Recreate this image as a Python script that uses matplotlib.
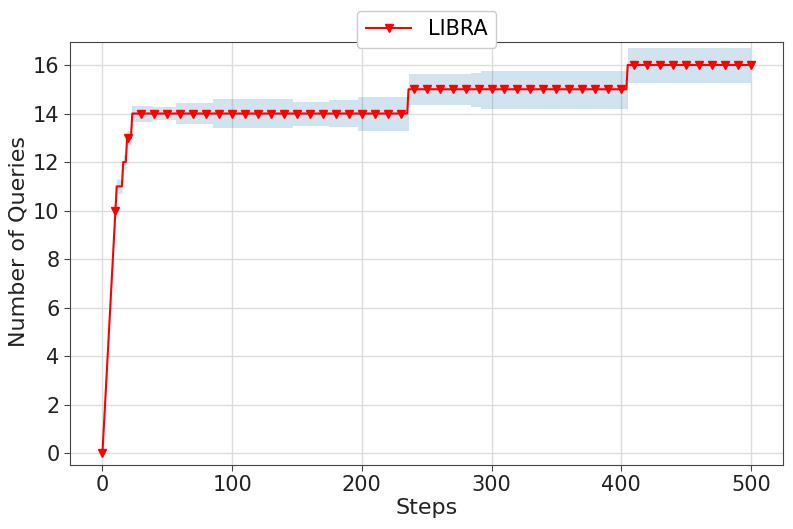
import matplotlib
matplotlib.use('Agg')
import matplotlib.pyplot as plt
import numpy as np

# mean number of queries (line breakpoints)
line_steps = [0, 10, 11, 15, 16, 18, 19, 22, 23, 235, 236, 404, 405, 500]
line_queries = [0, 10, 11, 11, 12, 12, 13, 13, 14, 14, 15, 15, 16, 16]

# marker every 10 steps
marker_steps = list(range(0, 501, 10))
marker_queries = [0, 10, 13] + [14] * 21 + [15] * 17 + [16] * 10

# shaded band (start, end, low, high)
band_start = [23, 39, 57, 85, 147, 175, 197, 236, 284, 292, 405]
band_end = [39, 57, 85, 147, 175, 197, 236, 284, 292, 405, 500]
band_low = [13.66, 13.73, 13.55, 13.39, 13.50, 13.43, 13.28, 14.35, 14.28, 14.17, 15.25]
band_high = [14.32, 14.28, 14.42, 14.60, 14.49, 14.56, 14.69, 15.62, 15.68, 15.76, 16.71]
# early part, around the climb
early_steps = [0, 10, 11, 15, 16, 18, 19, 22, 23]
early_low = [0, 9.7, 10.7, 10.7, 11.7, 11.7, 12.7, 12.7, 13.66]
early_high = [0, 10.3, 11.3, 11.3, 12.3, 12.3, 13.3, 13.3, 14.32]

fig = plt.figure(figsize=(7.93, 5.29), dpi=100)
ax = fig.add_axes([0.0883, 0.121, 0.8995, 0.8002])

band_color = '#1f77b4'
ax.fill_between(early_steps, early_low, early_high, color=band_color, alpha=0.2, lw=0)
for s, e, lo, hi in zip(band_start, band_end, band_low, band_high):
    ax.fill_between([s, e], [lo, lo], [hi, hi], color=band_color, alpha=0.2, lw=0)

ax.plot(line_steps, line_queries, color='red', lw=1.5)
ax.plot(marker_steps, marker_queries, ls='none', marker='v', color='red', ms=6)
ax.plot([], [], color='red', lw=1.5, marker='v', ms=6, label='LIBRA')

ax.set_xlim(-25, 525)
ax.set_ylim(-0.48, 16.96)
ax.set_yticks(range(0, 17, 2))
ax.set_xticks(range(0, 501, 100))

ax.grid(True, color='#dcdcdc', lw=1)
ax.set_axisbelow(True)
for sp in ax.spines.values():
    sp.set_color('#444444')
ax.tick_params(axis='both', labelsize=15, colors='#222222', length=4, color='#444444')

ax.set_xlabel('Steps', fontsize=16, color='#222222', labelpad=2)
ax.set_ylabel('Number of Queries', fontsize=16, color='#222222')
ax.yaxis.set_label_coords(-0.058, 0.527)

ax.legend(loc='center', bbox_to_anchor=(0.5, 1.029), fontsize=15,
          handlelength=2.2, framealpha=1, edgecolor='#cccccc')

fig.savefig('out.png', dpi=100)
